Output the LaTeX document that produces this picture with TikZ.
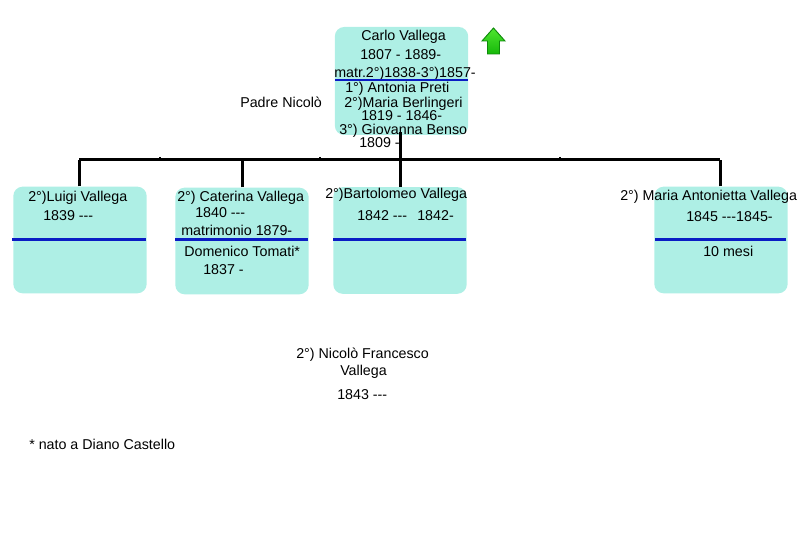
\documentclass[tikz,border=0pt]{standalone}
\usepackage{fontspec}
\setmainfont{Liberation Sans}
\usetikzlibrary{positioning}
\definecolor{boxfill}{HTML}{AEEFE5}
\definecolor{ruleblue}{HTML}{0A1CC4}
\definecolor{arrowgreen}{HTML}{16B80A}
\definecolor{arrowlight}{HTML}{4FE62F}
\definecolor{arrowedge}{HTML}{0E8A0A}

\begin{document}
\begin{tikzpicture}[x=0.75pt,y=-0.75pt]
\tikzstyle{personbox} = [rectangle, rounded corners=7pt, minimum width=100pt, minimum height=80pt, inner sep=0pt, fill=boxfill]
\tikzstyle{label} = [anchor=base west, inner sep=0pt, yshift=-0.75pt, font=\fontsize{10.7pt}{12pt}\selectfont]
\tikzstyle{splitrule} = [draw=ruleblue, line width=2.2pt]
\tikzstyle{treeline} = [draw=black, line width=2.25pt]

\useasboundingbox (0,0) rectangle (800,534);

\node (carlo) [personbox, minimum height=81pt] at (401.5,81) {};
\node (luigi) [personbox] at (80,240) {};
\node (caterina) [personbox] at (242,241) {};
\node (bartolomeo) [personbox] at (400,240.5) {};
\node (maria) [personbox] at (721,240) {};

\node (carlo1) [label] at (361,40) {Carlo Vallega};
\node (carlo2) [label] at (360,59) {1807 - 1889-};
\node (carlo3) [label] at (334,77) {matr.2°)1838-3°)1857-};
\node (carlo4) [label] at (345,92) {1°) Antonia Preti};
\node (carlo5) [label] at (344,107) {2°)Maria Berlingeri};
\node (carlo6) [label] at (361,120) {1819 - 1846-};
\node (carlo7) [label] at (339,134) {3°) Giovanna Benso};
\node (carlo8) [label] at (359,147) {1809 -};
\node (padre) [label] at (240,107) {Padre Nicolò};

\node (luigi1) [label] at (28,201) {2°)Luigi Vallega};
\node (luigi2) [label] at (43,220) {1839 -{}-{}-};

\node (caterina1) [label] at (177,201) {2°) Caterina Vallega};
\node (caterina2) [label] at (195,217) {1840 -{}-{}-};
\node (caterina3) [label] at (181,235) {matrimonio 1879-};
\node (caterina4) [label] at (184,256) {Domenico Tomati*};
\node (caterina5) [label] at (203,274) {1837 -};

\node (bartolomeo1) [label] at (325,198) {2°)Bartolomeo Vallega};
\node (bartolomeo2) [label] at (357,220) {1842 -{}-{}-};
\node (bartolomeo3) [label] at (417,220) {1842-};

\node (maria1) [label] at (620,200) {2°) Maria Antonietta Vallega};
\node (maria2) [label] at (686,221) {1845 -{}-{}-1845-};
\node (maria3) [label] at (703,256) {10 mesi};

\node (nicolo1) [label] at (296,358) {2°) Nicolò Francesco};
\node (nicolo2) [label] at (340,375) {Vallega};
\node (nicolo3) [label] at (337,399) {1843 -{}-{}-};
\node (nota) [label] at (29,449) {* nato a Diano Castello};

% blue rules across the boxes
\draw[splitrule] (335,80) -- (468,80);
\draw[splitrule] (12,239.5) -- (146,239.5);
\draw[splitrule] (175,239.5) -- (308,239.5);
\draw[splitrule] (333,239.5) -- (466,239.5);
\draw[splitrule] (655,239.5) -- (786,239.5);

% tree
\coordinate (busleft) at (79,160);
\coordinate (busright) at (720,160);
\draw[treeline] (busleft) -- (busright);
\draw[treeline] (bartolomeo.north) -- (bartolomeo.north |- carlo.south) -- +(0,-3);
\draw[treeline] (luigi.north -| busleft) -- (busleft);
\draw[treeline] (caterina.north) -- (caterina.north |- busleft);
\draw[treeline] (maria.north -| busright) -- (busright);

\foreach \x in {160,320,560}
  \draw[black, line width=1pt] (\x,157) -- (\x,159);

% up arrow
\path[draw=arrowedge, line width=0.7pt, top color=arrowlight, bottom color=arrowgreen]
  (493.5,28) -- (505,41) -- (499.5,41) -- (499.5,54) -- (487.5,54) -- (487.5,41) -- (482,41) -- cycle;

\end{tikzpicture}
\end{document}
